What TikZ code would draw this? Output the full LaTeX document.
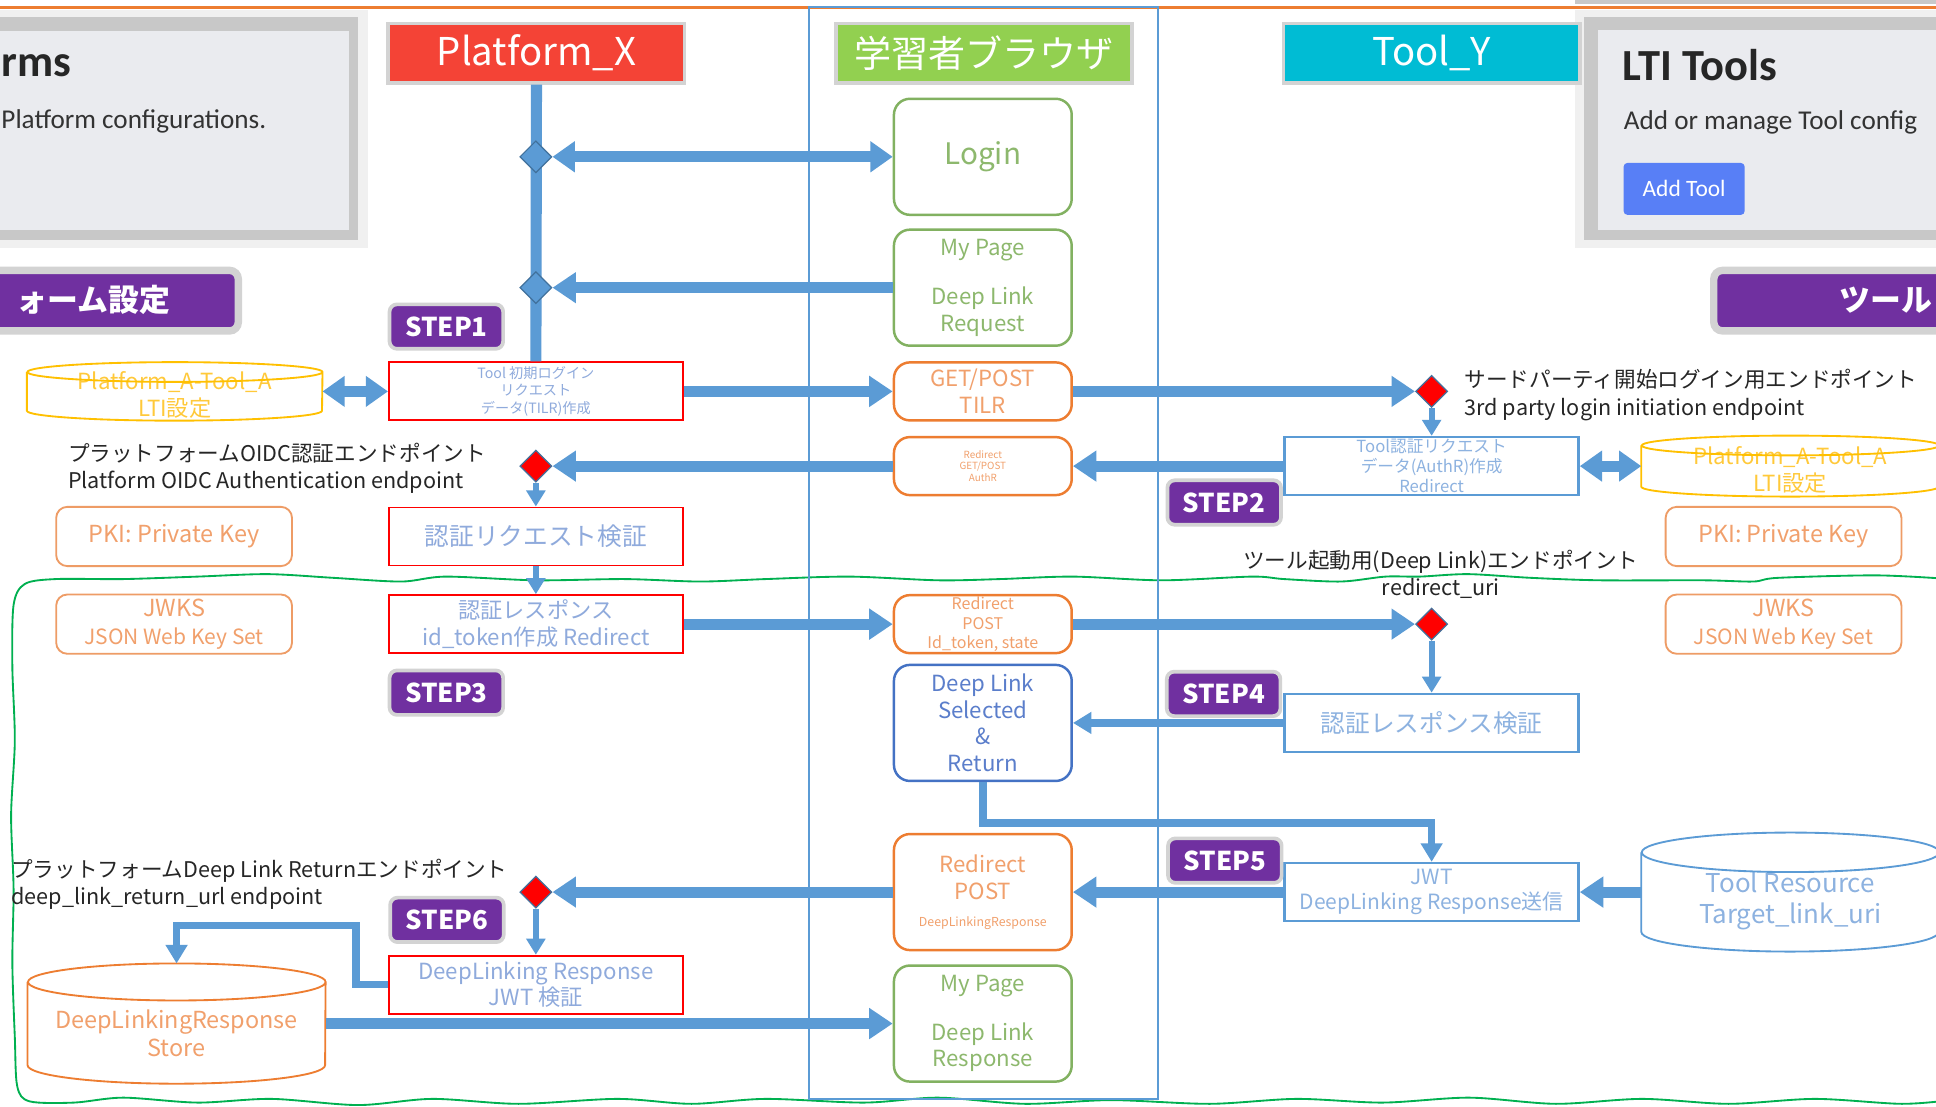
\documentclass[tikz,border=0pt]{standalone}
\usepackage{fontspec}
\setmainfont{Noto Sans CJK JP}
\newfontfamily\uifont{Carlito}
\usetikzlibrary{arrows.meta,shapes.geometric,positioning,calc}

\definecolor{flowblue}{HTML}{5B9BD5}
\definecolor{dmdedge}{HTML}{41719C}
\definecolor{pfred}{HTML}{F44336}
\definecolor{brgreen}{HTML}{92D050}
\definecolor{tlcyan}{HTML}{00BCD4}
\definecolor{framegray}{HTML}{D3D3D3}
\definecolor{steppurple}{HTML}{7030A0}
\definecolor{pageline}{HTML}{82B161}
\definecolor{pagetext}{HTML}{8DB86D}
\definecolor{orline}{HTML}{ED7D31}
\definecolor{ortext}{HTML}{F1A06C}
\definecolor{selline}{HTML}{4472C4}
\definecolor{seltext}{HTML}{5B7ECB}
\definecolor{pftext}{HTML}{8FAADC}
\definecolor{tltext}{HTML}{8DB2E0}
\definecolor{keyline}{HTML}{EE9C66}
\definecolor{ylw}{HTML}{FFC000}
\definecolor{ylwtext}{HTML}{FFC93A}
\definecolor{wavegreen}{HTML}{00B050}
\definecolor{panelbg}{HTML}{EAEBEF}
\definecolor{panelsh}{HTML}{C8C8C8}
\definecolor{panellt}{HTML}{F0F0F0}
\definecolor{btnblue}{HTML}{587FF6}
\definecolor{notetext}{HTML}{262626}

\newcommand{\drawdrum}[4]{% cylinder round a node: name, half width, cap, colour
  \draw[#4, line width=1.5pt] ($(#1.north west)+(0,#3)$) -- ($(#1.south west)+(0,-#3)$)
    arc[start angle=180, end angle=360, x radius=#2pt, y radius=#3pt]
    -- ($(#1.north east)+(0,#3)$)
    arc[start angle=0, end angle=180, x radius=#2pt, y radius=#3pt]
    arc[start angle=180, end angle=360, x radius=#2pt, y radius=#3pt];
}

\tikzset{
  fs/.style = {font=\fontsize{#1}{\fpeval{1.2*#1}}\selectfont},
  lane_hdr/.style = {draw=framegray, line width=3pt, text=white, inner sep=0pt,
    minimum width=240pt, minimum height=48pt, fs=31},% column header
  page/.style = {draw=pageline, text=pagetext, rounded corners=13pt, line width=2pt,
    fill=white, align=center, minimum width=144pt, minimum height=94pt,
    inner sep=0pt, fs=18},% browser page
  page_or/.style = {page, draw=orline, text=ortext, minimum height=47pt},% browser redirect
  pf_box/.style = {draw=red, line width=1.5pt, fill=white, text=pftext, align=center,
    minimum width=238pt, minimum height=47pt, inner sep=0pt, fs=18},% platform step
  tl_box/.style = {pf_box, draw=flowblue, line width=2pt, text=tltext},% tool step
  key_box/.style = {draw=keyline, rounded corners=9pt, line width=1.5pt, text=ortext,
    align=center, minimum width=191pt, minimum height=48pt, inner sep=0pt, fs=19},% key
  drum/.style = {inner sep=0pt, minimum width=#1},% cylinder frame
  step_tag/.style = {draw=framegray, line width=3pt, fill=steppurple, rounded corners=6pt,
    text=white, inner sep=0pt, minimum width=92pt, minimum height=36pt,
    font=\fontsize{21}{24}\selectfont\bfseries},% step badge
  dmd_b/.style = {diamond, draw=dmdedge, fill=flowblue, line width=1pt,
    minimum size=26pt, inner sep=0pt},% branch
  dmd_r/.style = {dmd_b, fill=red},% endpoint
  note/.style = {align=left, inner sep=0pt, text=notetext,
    font=\fontsize{17.5}{22}\selectfont},% endpoint label
  flow/.style = {draw=flowblue, line width=9pt, -{Triangle[length=19pt,width=24pt]}},
  flow_s/.style = {draw=flowblue, line width=5pt, -{Triangle[length=13pt,width=15pt]}},
  flow_m/.style = {draw=flowblue, line width=6pt, -{Triangle[length=15pt,width=17pt]}},
  flow_d/.style = {flow, {Triangle[length=18pt,width=24pt]}-{Triangle[length=18pt,width=24pt]}},
  ui_title/.style = {inner sep=0pt, text=black!85, font=\uifont\fontsize{36}{40}\selectfont\bfseries},
  ui_text/.style = {inner sep=0pt, text=black!80, font=\uifont\fontsize{22}{26}\selectfont},
  bnr_text/.style = {inner sep=0pt, text=white, font=\fontsize{25}{28}\selectfont\bfseries}
}

\begin{document}
\begin{tikzpicture}[x=1pt,y=-1pt]
\useasboundingbox (0,0) rectangle (1568,896);
\clip (0,0) rectangle (1568,896);
\fill[white] (0,0) rectangle (1568,896);
\draw[orline, line width=2pt] (0,6) -- (1568,6);

% screenshots
\fill[panellt] (-10,8) rectangle (298,201);
\fill[panelsh] (-10,14) rectangle (290,194);
\fill[panelbg] (-10,25) rectangle (283,186);
\node[ui_title, anchor=west] (pf_title) at (1,53) {rms};
\node[ui_text, anchor=west] (pf_desc) at (1,98) {Platform configurations.};
\fill[panellt] (1276,8) rectangle (1580,201);
\fill[panelsh] (1283,14) rectangle (1580,194);
\fill[panelbg] (1294,24) rectangle (1580,186);
\fill[panelsh] (1276,0) rectangle (1568,3);
\node[ui_title, anchor=west] (tl_title) at (1314,53) {LTI Tools};
\node[ui_text, anchor=west] (tl_desc) at (1315,99) {Add or manage Tool config};
\node[fill=btnblue, rounded corners=3pt, text=white, minimum width=98pt, minimum height=42pt,
  inner sep=0pt, font=\uifont\fontsize{19}{22}\selectfont] (tl_add) at (1364,153) {Add Tool};
\draw[framegray, line width=6pt, fill=steppurple, rounded corners=7pt] (-20,219) rectangle (193,268);
\node[bnr_text, anchor=east] (pf_bnr) at (138,243) {ォーム設定};
\draw[framegray, line width=6pt, fill=steppurple, rounded corners=7pt] (1388,219) rectangle (1600,268);
\node[bnr_text, anchor=west] (tl_bnr) at (1490,243) {ツール};

% torn edge
\draw[wavegreen, line width=1.5pt] plot[smooth, tension=0.5] coordinates {
  (1580,469) (1520,466) (1440,468) (1420,471) (1380,470) (1296,470) (1240,468)
  (1189,465) (1150,467) (1122,467) (1086,471) (1040,469) (1014,467) (941,470)
  (869,467) (810,469) (760,470) (688,467) (620,469) (567,471) (506,469) (434,470)
  (361,467) (325,471) (270,468) (217,465) (160,467) (100,469) (45,469) (20,473)
  (11,490) (10,540) (12,600) (9,660) (11,720) (10,780) (12,840) (14,880) (24,892)
  (60,893) (100,889) (160,893) (220,890) (290,895) (350,890) (420,894) (500,890)
  (560,894) (620,890) (700,893) (760,889) (830,894) (900,891) (980,894) (1050,890)
  (1120,893) (1190,889) (1260,894) (1330,890) (1400,894) (1470,890) (1540,894) (1580,891)};

% browser lane
\draw[flowblue, line width=1.5pt] (655,6) rectangle (938,890);

% headers
\node[lane_hdr, fill=pfred] (hdr_pf) at (434.5,43) {Platform\_X};
\node[lane_hdr, fill=brgreen, fs=30] (hdr_br) at (797,43) {学習者ブラウザ};
\node[lane_hdr, fill=tlcyan] (hdr_tl) at (1159.5,43) {Tool\_Y};

% browser pages
\node[page] (login) at (796,127) {\fontsize{24}{28}\selectfont Login};
\node[page] (mp_req) at (796,233) {My Page\\[18pt]Deep Link\\Request};
\node[page_or] (tilr_get) at (796,317) {GET/POST\\TILR};
\node[page_or, fs=8] (authr_get) at (796,377.5) {Redirect\\GET/POST\\AuthR};
\node[page_or, fs=13] (idtok_post) at (796,505.5) {Redirect\\POST\\Id\_token, state};
\node[page, draw=selline, text=seltext] (dl_sel) at (796,585.5) {Deep Link\\Selected\\\&\\Return};
\node[page_or, minimum height=94pt] (dlr_post) at (796,722.5)
  {Redirect\\POST\\{\fontsize{10}{12}\selectfont DeepLinkingResponse}};
\node[page] (mp_res) at (796,829) {My Page\\[18pt]Deep Link\\Response};

% platform side
\node[pf_box, fs=11.5] (tilr_make) at (434,317) {Tool 初期ログイン\\リクエスト\\データ(TILR)作成};
\node[pf_box, fs=20] (areq_chk) at (434,434.5) {認証リクエスト検証};
\node[pf_box] (idtok_make) at (434,505.5) {認証レスポンス\\id\_token作成 Redirect};
\node[pf_box] (dlr_chk) at (434,797.5) {DeepLinking Response\\JWT 検証};
\node[key_box] (pki_pf) at (141,434.5) {PKI: Private Key};
\node[key_box] (jwks_pf) at (141,505.5) {JWKS\\{\fontsize{17}{20}\selectfont JSON Web Key Set}};
\node[drum=239pt, minimum height=47pt, label={[align=center, text=ylwtext, fs=18, yshift=-3pt]center:Platform\_A-Tool\_A\\LTI設定}] (cyl_pf) at (141.5,317) {};
\drawdrum{cyl_pf}{119.5}{8}{ylw}
\node[drum=241pt, minimum height=97pt, label={[align=center, text=ortext, fs=19, yshift=-8pt]center:DeepLinkingResponse\\Store}] (store) at (143,829) {};
\drawdrum{store}{120.5}{15}{orline}

% tool side
\node[tl_box, fs=13.5] (authr_make) at (1159.5,377.5) {Tool認証リクエスト\\データ(AuthR)作成\\Redirect};
\node[tl_box, fs=20] (ares_chk) at (1159.5,585.5) {認証レスポンス検証};
\node[tl_box, fs=17] (jwt_send) at (1159.5,722.5) {JWT\\DeepLinking Response送信};
\node[key_box] (pki_tl) at (1444.5,434.5) {PKI: Private Key};
\node[key_box] (jwks_tl) at (1444.5,505.5) {JWKS\\{\fontsize{17}{20}\selectfont JSON Web Key Set}};
\node[drum=241pt, minimum height=49pt, label={[align=center, text=ylwtext, fs=18, yshift=-3pt]center:Platform\_A-Tool\_A\\LTI設定}] (cyl_tl) at (1450,377.5) {};
\drawdrum{cyl_tl}{120.5}{8}{ylw}
\node[drum=241pt, minimum height=96pt, label={[align=center, text=tltext, fs=21, yshift=-7pt]center:Tool Resource\\Target\_link\_uri}] (toolres) at (1450,722.5) {};
\drawdrum{toolres}{120.5}{16}{flowblue}

% steps
\node[step_tag] (step1) at (361.5,264.5) {STEP1};
\node[step_tag] (step2) at (991.5,407) {STEP2};
\node[step_tag] (step3) at (361.5,561) {STEP3};
\node[step_tag] (step4) at (991,562) {STEP4};
\node[step_tag] (step5) at (992,697) {STEP5};
\node[step_tag] (step6) at (362,745) {STEP6};

% endpoint labels
\node[note, anchor=west] (oidc_lbl) at (55,379) {プラットフォームOIDC認証エンドポイント\\Platform OIDC Authentication endpoint};
\node[note, anchor=west] (init_lbl) at (1186,320) {サードパーティ開始ログイン用エンドポイント\\3rd party login initiation endpoint};
\node[note, align=center] (redir_lbl) at (1167,465.5) {ツール起動用(Deep Link)エンドポイント\\redirect\_uri};
\node[note, anchor=west] (ret_lbl) at (9,716.5) {プラットフォームDeep Link Returnエンドポイント\\deep\_link\_return\_url endpoint};

% platform trunk and branch points
\draw[flowblue, line width=9pt] (hdr_pf.south) -- (tilr_make.north);
\node[dmd_b] (dia_a) at (434,127) {};
\node[dmd_b] (dia_b) at (434,233) {};
\node[dmd_r] (dia_oidc) at (434,377.5) {};
\node[dmd_r] (dia_init) at (1159.5,317) {};
\node[dmd_r] (dia_redir) at (1159.5,505.5) {};
\node[dmd_r] (dia_ret) at (434,722.5) {};

% flows
\draw[flow_d] (dia_a.east) -- (login.west);
\draw[flow] (mp_req.west) -- (dia_b.east);
\draw[flow_d] (cyl_pf.east) -- (tilr_make.west);
\draw[flow] (tilr_make.east) -- (tilr_get.west);
\draw[flow] (tilr_get.east) -- (dia_init.west);
\draw[flow_s] (dia_init.south) -- (authr_make.north);
\draw[flow_d] (authr_make.east) -- (cyl_tl.west);
\draw[flow] (authr_make.west) -- (authr_get.east);
\draw[flow] (authr_get.west) -- (dia_oidc.east);
\draw[flow_s] (dia_oidc.south) -- (areq_chk.north);
\draw[flow_s] (areq_chk.south) -- (idtok_make.north);
\draw[flow] (idtok_make.east) -- (idtok_post.west);
\draw[flow] (idtok_post.east) -- (dia_redir.west);
\draw[flow_s] (dia_redir.south) -- (ares_chk.north);
\draw[flow_m] (ares_chk.west) -- (dl_sel.east);
\draw[flow_m] (dl_sel.south) -- ++(0,33) -| (jwt_send.north);
\draw[flow] (toolres.west) -- (jwt_send.east);
\draw[flow] (jwt_send.west) -- (dlr_post.east);
\draw[flow] (dlr_post.west) -- (dia_ret.east);
\draw[flow_s] (dia_ret.south) -- (dlr_chk.north);
\draw[flow_m] (dlr_chk.west) -- ++(-26,0) -- ++(0,-48) -| (store.north);
\draw[flow] (store.east) -- (mp_res.west);
\end{tikzpicture}
\end{document}
